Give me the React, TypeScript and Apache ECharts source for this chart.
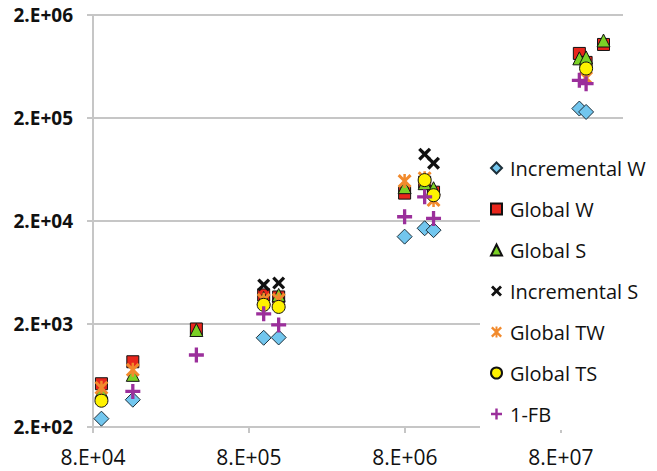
import React, { useEffect, useRef } from "react";
import * as echarts from "echarts";

// Tick labels
const xTickLabels = ["8.E+04", "8.E+05", "8.E+06", "8.E+07"];
const yTickLabels = ["2.E+02", "2.E+03", "2.E+04", "2.E+05", "2.E+06"];
const X_BASE = 8e4;
const Y_BASE = 200;
const X_MAX = 2e8;
const Y_MAX = 2e6;

// Series values: [x, y]
const incrementalW: [number, number][] = [
  [9.06e4, 241], [1.44e5, 368], [9.94e5, 1470], [1.24e6, 1480],
  [7.96e6, 14100], [1.07e7, 17000], [1.22e7, 16300], [1.05e8, 247000], [1.16e8, 229000],
];
const globalW: [number, number][] = [
  [9.06e4, 526], [1.44e5, 860], [3.68e5, 1790], [9.94e5, 3830], [1.24e6, 3660],
  [7.96e6, 37300], [1.07e7, 47600], [1.22e7, 38100], [1.05e8, 847000], [1.16e8, 693000], [1.5e8, 1035000],
];
const globalS: [number, number][] = [
  [9.06e4, 440], [1.44e5, 642], [3.68e5, 1750], [9.94e5, 3580], [1.24e6, 3830],
  [7.96e6, 42600], [1.07e7, 46600], [1.22e7, 41600], [1.05e8, 759000], [1.16e8, 775000], [1.5e8, 1130000],
];
const incrementalS: [number, number][] = [
  [9.94e5, 4790], [1.24e6, 5000], [1.07e7, 89100], [1.22e7, 72900],
];
const globalTW: [number, number][] = [
  [9.06e4, 481], [1.44e5, 718], [9.94e5, 3430], [1.24e6, 3450],
  [7.96e6, 48800], [1.07e7, 52100], [1.22e7, 31900], [1.16e8, 490000],
];
const globalTS: [number, number][] = [
  [9.06e4, 360], [9.94e5, 3070], [1.24e6, 2930], [1.07e7, 49900], [1.22e7, 35600], [1.16e8, 605000],
];
const oneFB: [number, number][] = [
  [1.44e5, 443], [3.68e5, 1000], [9.94e5, 2510], [1.24e6, 1960],
  [7.96e6, 22000], [1.07e7, 34300], [1.22e7, 21200], [1.05e8, 464000], [1.16e8, 431000],
];

const seriesNames = ["Incremental W", "Global W", "Global S", "Incremental S", "Global TW", "Global TS", "1-FB"];
const seriesData = [incrementalW, globalW, globalS, incrementalS, globalTW, globalTS, oneFB];

const PLUS = "path://M3.9,0 L6.1,0 L6.1,3.9 L10,3.9 L10,6.1 L6.1,6.1 L6.1,10 L3.9,10 L3.9,6.1 L0,6.1 L0,3.9 L3.9,3.9 Z";
const CROSS = "path://M0,1.8 L1.8,0 L5,3.2 L8.2,0 L10,1.8 L6.8,5 L10,8.2 L8.2,10 L5,6.8 L1.8,10 L0,8.2 L3.2,5 Z";
const STAR =
  "path://M0,1.5 L1.5,0 L5,3.5 L8.5,0 L10,1.5 L6.5,5 L10,8.5 L8.5,10 L5,6.5 L1.5,10 L0,8.5 L3.5,5 Z M4.1,0 L5.9,0 L5.9,10 L4.1,10 Z";

const styles = [
  { symbol: "diamond", size: 15, color: "#72C6EE", border: "#1d2f3a", bw: 1 },
  { symbol: "rect", size: 12, color: "#E8261C", border: "#111111", bw: 1 },
  { symbol: "triangle", size: 13, color: "#7BD126", border: "#111111", bw: 1 },
  { symbol: CROSS, size: 13, color: "#111111", border: "#111111", bw: 0 },
  { symbol: STAR, size: 14, color: "#F28A2C", border: "#F28A2C", bw: 0 },
  { symbol: "circle", size: 13, color: "#FFF200", border: "#111111", bw: 1 },
  { symbol: PLUS, size: 15, color: "#9B2F9B", border: "#9B2F9B", bw: 0 },
];

const lx = (v: number) => Math.log10(v / X_BASE);
const ly = (v: number) => Math.log10(v / Y_BASE);

export default function App() {
  const ref = useRef<HTMLDivElement>(null);
  useEffect(() => {
    if (!ref.current) return;
    document.body.style.margin = "0";
    const chart = echarts.init(ref.current, undefined, { renderer: "svg" });
    const gridColor = "#C6C6C6";
    chart.setOption({
      animation: false,
      backgroundColor: "#ffffff",
      grid: { left: 93, right: 34, top: 15, bottom: 44, outerBoundsMode: "none", containLabel: false },
      xAxis: {
        type: "value",
        min: 0,
        max: lx(X_MAX),
        interval: 1,
        axisLine: { show: true, lineStyle: { color: gridColor, width: 2 } },
        axisTick: { show: true, length: 6, customValues: [0, 1, 2, 3], lineStyle: { color: gridColor, width: 2 } },
        axisLabel: {
          customValues: [0, 1, 2, 3],
          formatter: (v: number) => xTickLabels[Math.round(v)] ?? "",
          fontFamily: "Open Sans",
          fontSize: 21,
          color: "#111111",
          margin: 19,
        },
        splitLine: { show: false },
      },
      yAxis: {
        type: "value",
        min: 0,
        max: ly(Y_MAX),
        interval: 1,
        axisLine: { show: true, lineStyle: { color: gridColor, width: 2 } },
        axisTick: { show: true, length: 6, lineStyle: { color: gridColor, width: 2 } },
        axisLabel: {
          formatter: (v: number) => yTickLabels[Math.round(v)] ?? "",
          fontFamily: "Open Sans",
          fontWeight: "bold",
          fontSize: 19,
          color: "#111111",
          margin: 20,
        },
        splitLine: { show: true, lineStyle: { color: gridColor, width: 2 } },
      },
      legend: {
        orient: "vertical",
        left: 480,
        top: 146,
        padding: [11, 2, 5, 10],
        backgroundColor: "#ffffff",
        itemWidth: 11,
        itemHeight: 11,
        itemGap: 19,
        textStyle: { fontFamily: "Open Sans", fontSize: 20, color: "#111111", lineHeight: 22, padding: [0, 0, 0, 3] },
        data: seriesNames,
      },
      series: seriesNames.map((name, i) => ({
        name,
        type: "scatter",
        symbol: styles[i].symbol,
        symbolSize: styles[i].size,
        itemStyle: {
          color: styles[i].color,
          borderColor: styles[i].border,
          borderWidth: styles[i].bw,
          opacity: 1,
        },
        data: seriesData[i].map(([x, y]) => [lx(x), ly(y)]),
      })),
    });
    return () => chart.dispose();
  }, []);
  return <div ref={ref} style={{ position: "absolute", left: 0, top: 0, width: 657, height: 471 }} />;
}
